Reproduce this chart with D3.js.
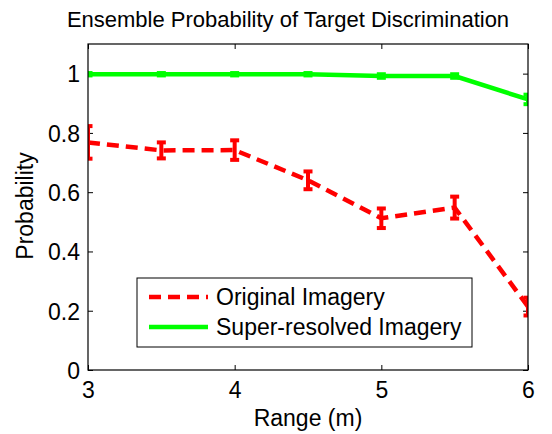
<!DOCTYPE html>
<html><head><meta charset="utf-8">
<script src="https://cdn.jsdelivr.net/npm/d3@7"></script>
<style>body{margin:0;background:#fff}svg{display:block}text{font-family:Arial,"Liberation Sans",sans-serif;fill:#000}</style>
</head><body>
<svg id="c" width="552" height="434"></svg>
<script>
const ranges = [3, 3.5, 4, 4.5, 5, 5.5, 6];
const originalProb = [0.768, 0.741, 0.742, 0.640, 0.512, 0.548, 0.214];
const originalErr = [0.055, 0.027, 0.033, 0.030, 0.033, 0.037, 0.030];
const superProb = [0.998, 0.998, 0.998, 0.998, 0.992, 0.992, 0.913];
const superErr = [0.004, 0.004, 0.004, 0.004, 0.006, 0.006, 0.016];
const xTicks = [3, 4, 5, 6];
const yTicks = [0, 0.2, 0.4, 0.6, 0.8, 1];
const legendLabels = ["Original Imagery", "Super-resolved Imagery"];

const svg = d3.select("#c");
const L = 88, R = 528, T = 44, B = 370;
const x = d3.scaleLinear().domain([3, 6]).range([L, R]);
const y = d3.scaleLinear().domain([0, 1.1]).range([B, T]);
const fs = 23;

svg.append("defs").append("clipPath").attr("id", "clip").append("rect")
  .attr("x", L).attr("y", T).attr("width", R - L).attr("height", B - T);

const tl = 5;
const ax = svg.append("g").attr("transform", `translate(0,${B})`).call(d3.axisBottom(x).tickValues(xTicks).tickSize(-tl).tickPadding(0).tickFormat(d3.format("d")));
const axt = svg.append("g").attr("transform", `translate(0,${T})`).call(d3.axisTop(x).tickValues(xTicks).tickSize(-tl).tickFormat(""));
const ay = svg.append("g").attr("transform", `translate(${L},0)`).call(d3.axisLeft(y).tickValues(yTicks).tickSize(-tl).tickPadding(8).tickFormat(d => d === 0 || d === 1 ? d3.format("d")(d) : d3.format(".1f")(d)));
const ayr = svg.append("g").attr("transform", `translate(${R},0)`).call(d3.axisRight(y).tickValues(yTicks).tickSize(-tl).tickFormat(""));
[ax, axt, ay, ayr].forEach(g => {
  g.select(".domain").remove();
  g.selectAll("line").attr("stroke", "#000");
  g.selectAll("text").style("font-size", fs + "px").attr("font-family", "Arial, 'Liberation Sans', sans-serif");
});
ax.selectAll("text").attr("y", 28).attr("dy", null);
ay.selectAll("text").attr("dy", "0.36em");

const plot = svg.append("g").attr("clip-path", "url(#clip)");
const line = d3.line().x((d, i) => x(ranges[i])).y(d => y(d));

function series(vals, errs, color, dash) {
  plot.append("path").datum(vals).attr("d", line).attr("fill", "none").attr("stroke", color).attr("stroke-width", 4.5)
    .attr("stroke-dasharray", dash || null);
  const cw = 4.5;
  vals.forEach((v, i) => {
    const cx = x(ranges[i]), y1 = y(v + errs[i]), y2 = y(v - errs[i]);
    const g = plot.append("g").attr("stroke", color).attr("stroke-width", 4);
    g.append("line").attr("x1", cx).attr("x2", cx).attr("y1", y1).attr("y2", y2);
    g.append("line").attr("x1", cx - cw).attr("x2", cx + cw).attr("y1", y1).attr("y2", y1);
    g.append("line").attr("x1", cx - cw).attr("x2", cx + cw).attr("y1", y2).attr("y2", y2);
  });
}
series(superProb, superErr, "#00ff00");
series(originalProb, originalErr, "#ff0000", "12,7");

svg.append("rect").attr("x", L).attr("y", T).attr("width", R - L).attr("height", B - T).attr("fill", "none").attr("stroke", "#000").attr("stroke-width", 1.2);

svg.append("text").attr("x", 288).attr("y", 27).attr("text-anchor", "middle").style("font-size", "22px").text("Ensemble Probability of Target Discrimination");
svg.append("text").attr("x", (L + R) / 2).attr("y", 426).attr("text-anchor", "middle").style("font-size", fs + "px").text("Range (m)");
svg.append("text").attr("transform", `translate(33,206) rotate(-90)`).attr("text-anchor", "middle").style("font-size", fs + "px").text("Probability");

const lg = svg.append("g");
lg.append("rect").attr("x", 137).attr("y", 278).attr("width", 335).attr("height", 69).attr("fill", "#fff").attr("stroke", "#000").attr("stroke-width", 1);
const lc = ["#ff0000", "#00ff00"], ld = ["12,7", null];
legendLabels.forEach((t, i) => {
  const yy = 297 + i * 30;
  lg.append("line").attr("x1", 149).attr("x2", 208).attr("y1", yy).attr("y2", yy).attr("stroke", lc[i]).attr("stroke-width", 4.5).attr("stroke-dasharray", ld[i]);
  lg.append("text").attr("x", 216).attr("y", yy + 8).style("font-size", fs + "px").text(t);
});
</script>
</body></html>
